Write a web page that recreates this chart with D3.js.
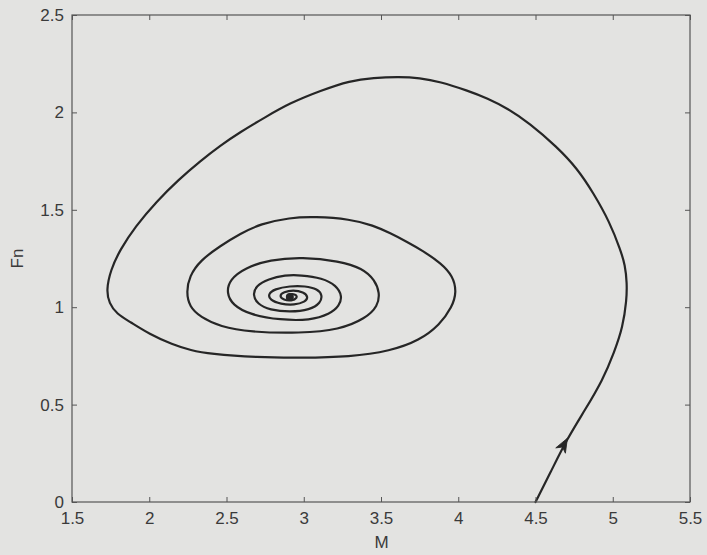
<!DOCTYPE html>
<html>
<head>
<meta charset="utf-8">
<script src="https://cdn.jsdelivr.net/npm/d3@7"></script>
<style>
  html, body { margin: 0; padding: 0; background: #e3e3e1; }
  svg { display: block; }
</style>
</head>
<body>
<svg id="chart" width="707" height="555"></svg>
<script>
// ---- data (phase trajectory M vs Fn) ----
const mValues = [
  4.500,4.605,4.700,4.820,4.935,5.010,5.065,5.090,5.092,5.080,5.050,4.980,4.875,4.770,4.640,4.460,4.320,4.190,4.060,3.880,
  3.750,3.620,3.450,3.300,3.110,2.910,2.750,2.590,2.460,2.330,2.190,2.050,1.910,1.810,1.750,1.722,1.740,1.790,1.875,2.000,
  2.150,2.270,2.390,2.700,2.980,3.300,3.560,3.750,3.880,3.960,3.990,3.965,3.890,3.770,3.670,3.560,3.450,3.300,3.070,2.910,2.720,
  2.590,2.460,2.330,2.260,2.240,2.260,2.330,2.460,2.650,2.980,3.230,3.400,3.480,3.492,3.460,3.380,3.230,2.990,2.780,2.620,
  2.520,2.500,2.540,2.650,2.850,3.040,3.170,3.230,3.250,3.210,3.120,2.980,2.880,2.770,2.690,2.670,2.700,2.780,2.910,3.040,
  3.110,3.120,3.090,3.010,2.910,2.810,2.770,2.780,2.850,2.940,3.010,3.030,3.000,2.930,2.870,2.840,2.870,2.920,2.960,2.950,
  2.900,2.890,2.900,2.910
];
const fnValues = [
  0.000,0.164,0.318,0.472,0.626,0.770,0.898,1.037,1.124,1.217,1.294,1.437,1.586,1.712,1.822,1.945,2.020,2.072,2.112,2.158,
  2.177,2.183,2.178,2.163,2.112,2.048,1.975,1.900,1.830,1.750,1.655,1.545,1.415,1.294,1.191,1.088,1.020,0.965,0.925,0.862,
  0.808,0.778,0.760,0.742,0.740,0.745,0.775,0.830,0.910,1.000,1.078,1.160,1.225,1.290,1.335,1.380,1.420,1.452,1.465,1.460,1.428,
  1.378,1.315,1.240,1.160,1.078,1.002,0.950,0.900,0.872,0.866,0.884,0.942,1.006,1.073,1.140,1.200,1.237,1.258,1.244,1.202,
  1.142,1.073,1.011,0.962,0.934,0.932,0.965,1.006,1.057,1.112,1.150,1.165,1.165,1.145,1.109,1.063,1.016,0.986,0.975,0.986,
  1.022,1.063,1.093,1.109,1.109,1.093,1.068,1.037,1.016,1.011,1.027,1.052,1.078,1.088,1.078,1.058,1.037,1.032,1.047,1.068,
  1.068,1.052,1.042,1.052
];
const xTicks = [1.5, 2, 2.5, 3, 3.5, 4, 4.5, 5, 5.5];
const xTickLabels = ["1.5", "2", "2.5", "3", "3.5", "4", "4.5", "5", "5.5"];
const yTicks = [0, 0.5, 1, 1.5, 2, 2.5];
const yTickLabels = ["0", "0.5", "1", "1.5", "2", "2.5"];
const xLabel = "M";
const yLabel = "Fn";
const arrowIndex = 2; // arrow placed along the initial rising branch

// ---- layout ----
const svg = d3.select("#chart");
const W = 707, H = 555;
const margin = { left: 72, right: 17, top: 15, bottom: 53 };
const x = d3.scaleLinear().domain([1.5, 5.5]).range([margin.left, W - margin.right]);
const y = d3.scaleLinear().domain([0, 2.5]).range([H - margin.bottom, margin.top]);

const axisColor = "#555";
const textColor = "#3a3a3a";
const font = "Liberation Sans, Arial, Helvetica, sans-serif";

svg.append("rect").attr("width", W).attr("height", H).attr("fill", "#e3e3e1");

// ---- trajectory ----
const pts = mValues.map((m, i) => [m, fnValues[i]]);
const line = d3.line()
  .x(d => x(d[0])).y(d => y(d[1]))
  .curve(d3.curveBasis);

svg.append("path")
  .datum(pts)
  .attr("d", line)
  .attr("fill", "none")
  .attr("stroke", "#262626")
  .attr("stroke-width", 2.2)
  .attr("stroke-linejoin", "round")
  .attr("stroke-linecap", "round");

// center blob where the spiral converges
const last = pts[pts.length - 1];
svg.append("circle")
  .attr("cx", x(last[0])).attr("cy", y(last[1]))
  .attr("r", 4).attr("fill", "#262626");

// ---- arrow head ----
const p0 = pts[arrowIndex - 1], p1 = pts[arrowIndex + 1], pa = pts[arrowIndex];
const ang = Math.atan2(y(p1[1]) - y(p0[1]), x(p1[0]) - x(p0[0])) * 180 / Math.PI;
svg.append("path")
  .attr("d", "M2,0 L-12,-5.5 L-8,0 L-12,5.5 Z")
  .attr("transform", `translate(${x(pa[0])},${y(pa[1])}) rotate(${ang})`)
  .attr("fill", "#262626")
  .attr("stroke", "#262626")
  .attr("stroke-width", 0.8)
  .attr("stroke-linejoin", "round");

// ---- axes (MATLAB style box with inward ticks) ----
function styleAxis(g) {
  g.select(".domain").remove();
  g.selectAll(".tick line").attr("stroke", axisColor).attr("stroke-width", 1);
  g.selectAll(".tick text")
    .attr("fill", textColor)
    .style("font-family", font)
    .style("font-size", "17px");
}

const gx = svg.append("g")
  .attr("transform", `translate(0,${y(0)})`)
  .call(d3.axisBottom(x).tickValues(xTicks)
    .tickFormat((d, i) => xTickLabels[i])
    .tickSizeInner(-5).tickSizeOuter(0).tickPadding(10));
styleAxis(gx);

const gxTop = svg.append("g")
  .attr("transform", `translate(0,${y(2.5)})`)
  .call(d3.axisTop(x).tickValues(xTicks).tickFormat("")
    .tickSizeInner(-5).tickSizeOuter(0));
styleAxis(gxTop);

const gy = svg.append("g")
  .attr("transform", `translate(${x(1.5)},0)`)
  .call(d3.axisLeft(y).tickValues(yTicks)
    .tickFormat((d, i) => yTickLabels[i])
    .tickSizeInner(-5).tickSizeOuter(0).tickPadding(8));
styleAxis(gy);

const gyRight = svg.append("g")
  .attr("transform", `translate(${x(5.5)},0)`)
  .call(d3.axisRight(y).tickValues(yTicks).tickFormat("")
    .tickSizeInner(-5).tickSizeOuter(0));
styleAxis(gyRight);

// box
svg.append("rect")
  .attr("x", x(1.5)).attr("y", y(2.5))
  .attr("width", x(5.5) - x(1.5)).attr("height", y(0) - y(2.5))
  .attr("fill", "none").attr("stroke", axisColor).attr("stroke-width", 1.2);

// axis titles
svg.append("text")
  .attr("x", (x(1.5) + x(5.5)) / 2 + 0.5)
  .attr("y", 548)
  .attr("text-anchor", "middle")
  .attr("fill", textColor)
  .style("font-family", font).style("font-size", "17px")
  .text(xLabel);

svg.append("text")
  .attr("transform", `translate(23,${(y(0) + y(2.5)) / 2}) rotate(-90)`)
  .attr("text-anchor", "middle")
  .attr("fill", textColor)
  .style("font-family", font).style("font-size", "17px")
  .text(yLabel);
</script>
</body>
</html>
